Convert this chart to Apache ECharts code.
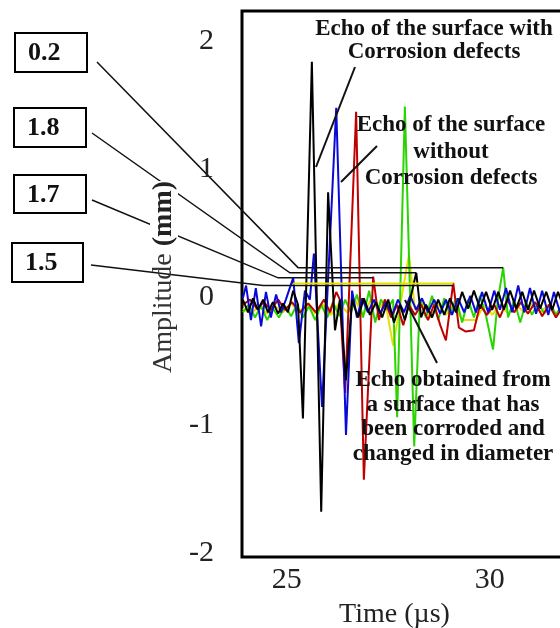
<!DOCTYPE html>
<html>
<head>
<meta charset="utf-8">
<script src="https://cdn.jsdelivr.net/npm/echarts@6/dist/echarts.min.js"></script>
<style>
  html, body { margin: 0; padding: 0; background: #fff; }
  #main { width: 560px; height: 628px; }
</style>
</head>
<body>
<div id="main"></div>
<script type="text/javascript">
// echo traces, [time (us), amplitude (mm)]
var blackEcho = [
  [23.92,-0.02],[24.05,-0.12],[24.17,-0.01],[24.29,-0.10],[24.42,-0.02],[24.54,-0.12],[24.66,-0.04],
  [24.79,-0.13],[24.91,-0.05],[25.03,-0.12],[25.16,0.05],[25.28,-0.06],[25.40,-0.95],[25.62,1.84],
  [25.85,-1.68],[26.02,0.82],[26.19,-0.26],[26.31,-0.02],[26.46,-0.65],[26.61,-0.02],[26.76,-0.16],
  [26.90,-0.01],[27.05,-0.14],[27.20,-0.04],[27.35,-0.16],[27.50,-0.02],[27.64,-0.20],[27.79,-0.06],
  [27.91,-0.18],[28.04,-0.02],[28.19,0.19],[28.31,-0.16],[28.43,-0.06],[28.58,-0.16],[28.73,-0.02],
  [28.88,-0.14],[29.02,-0.01],[29.17,-0.12],[29.32,0.04],[29.47,-0.09],[29.61,0.05],[29.76,-0.09],
  [29.91,0.04],[30.06,-0.10],[30.21,0.04],[30.35,-0.10],[30.50,0.05],[30.65,-0.09],[30.80,0.04],
  [30.94,-0.10],[31.09,0.05],[31.24,-0.09],[31.39,0.04],[31.54,-0.10],[31.68,0.04],[31.83,-0.09],[31.98,0.02]
];
var blueEcho = [
  [23.92,-0.01],[24.00,0.09],[24.12,-0.18],[24.24,0.07],[24.37,-0.23],[24.49,0.04],[24.61,-0.16],
  [24.74,0.02],[24.86,-0.12],[24.98,-0.02],[25.16,0.15],[25.30,-0.36],[25.45,0.05],[25.57,-0.02],
  [25.67,0.34],[25.87,-0.86],[26.22,1.48],[26.46,-1.08],[26.61,0.05],[26.73,-0.16],[26.86,-0.01],
  [27.00,-0.12],[27.15,-0.02],[27.30,-0.13],[27.45,-0.04],[27.60,-0.14],[27.74,-0.02],[27.89,-0.12],
  [28.04,0.01],[28.19,-0.10],[28.33,-0.01],[28.48,-0.12],[28.63,-0.02],[28.78,-0.13],[28.92,-0.02],
  [29.07,-0.14],[29.22,-0.01],[29.37,-0.12],[29.52,0.01],[29.66,-0.12],[29.81,0.04],[29.96,-0.12],
  [30.11,0.05],[30.25,-0.10],[30.40,0.07],[30.55,-0.12],[30.70,0.09],[30.85,-0.12],[30.99,0.07],
  [31.14,-0.13],[31.29,0.05],[31.44,-0.14],[31.58,0.04],[31.73,-0.12],[31.88,0.01]
];
var redEcho = [
  [23.92,-0.06],[24.10,-0.02],[24.27,-0.09],[24.44,-0.04],[24.61,-0.10],[24.79,-0.02],[24.96,-0.10],
  [25.13,-0.04],[25.33,-0.12],[25.53,-0.05],[25.72,-0.12],[25.92,-0.02],[26.07,-0.12],[26.22,0.04],
  [26.31,-0.02],[26.44,-0.75],[26.71,1.45],[26.90,-1.43],[27.13,0.16],[27.27,-0.18],[27.42,-0.02],
  [27.57,-0.16],[27.72,-0.06],[27.87,-0.22],[28.01,-0.06],[28.16,-0.14],[28.31,-0.06],[28.48,-0.18],
  [28.63,-0.06],[28.78,-0.22],[28.92,-0.34],[29.10,0.11],[29.24,-0.24],[29.41,-0.27],[29.61,-0.26],
  [29.76,-0.06],[29.93,-0.14],[30.11,-0.06],[30.25,-0.16],[30.43,-0.02],[30.60,-0.12],[30.77,-0.04],
  [30.94,-0.13],[31.12,-0.04],[31.29,-0.15],[31.46,-0.06],[31.63,-0.16],[31.81,-0.07],[31.98,-0.13]
];
var greenEcho = [
  [23.92,-0.12],[24.07,-0.06],[24.22,-0.16],[24.37,-0.07],[24.52,-0.18],[24.66,-0.09],[24.81,-0.16],
  [24.96,-0.07],[25.11,-0.15],[25.25,-0.06],[25.40,-0.16],[25.55,-0.07],[25.70,-0.18],[25.85,-0.06],
  [26.00,-0.16],[26.14,-0.04],[26.29,-0.15],[26.44,-0.02],[26.58,-0.12],[26.73,0.02],[26.88,-0.16],
  [27.03,0.05],[27.18,-0.20],[27.32,-0.02],[27.47,-0.10],[27.62,-0.02],[27.72,-0.94],[27.91,1.49],
  [28.14,-1.17],[28.28,-0.02],[28.43,-0.16],[28.58,0.01],[28.73,-0.18],[28.88,-0.01],[29.02,-0.14],
  [29.17,-0.01],[29.32,-0.20],[29.47,-0.02],[29.61,-0.16],[29.76,0.01],[29.91,-0.15],[30.08,-0.41],
  [30.20,-0.02],[30.33,0.23],[30.45,-0.16],[30.60,-0.02],[30.75,-0.20],[30.89,-0.04],[31.04,-0.14],
  [31.19,-0.04],[31.34,-0.13],[31.49,-0.05],[31.63,-0.14],[31.78,-0.06],[31.93,-0.13]
];
var yellowEcho = [
  [23.92,-0.09],[24.12,-0.13],[24.32,-0.07],[24.52,-0.13],[24.71,-0.07],[24.91,-0.12],[25.11,-0.05],
  [25.30,-0.12],[25.50,-0.05],[25.70,-0.13],[25.90,-0.06],[26.09,-0.14],[26.29,-0.05],[26.49,-0.12],
  [26.68,-0.02],[26.88,-0.14],[27.08,-0.02],[27.25,-0.10],[27.42,-0.02],[27.62,-0.38],[27.82,-0.02],
  [28.01,0.33],[28.16,-0.10],[28.33,-0.04],[28.53,-0.16],[28.73,-0.06],[28.92,-0.14],[29.12,-0.06],
  [29.32,-0.18],[29.66,-0.18],[29.86,-0.06],[30.06,-0.14],[30.25,-0.06],[30.45,-0.13],[30.65,-0.06],
  [30.85,-0.12],[31.04,-0.05],[31.24,-0.12],[31.44,-0.06],[31.63,-0.13],[31.83,-0.06]
];

// thickness call-outs and the peak levels they point to
var calloutLabels = ['0.2', '1.8', '1.7', '1.5'];
var calloutLevel = [0.23, 0.19, 0.15, 0.09];
var calloutStart = [25.28, 25.08, 24.79, 24.42];
var calloutEnd = [30.33, 28.19, 27.13, 29.10];

var xTicks = [25, 30];
var yTicks = [-2, -1, 0, 1, 2];

var serif = '"Liberation Serif", "Times New Roman", serif';

var myChart = echarts.init(document.getElementById('main'));

function trace(name, color, data) {
    return {
        name: name,
        type: 'line',
        data: data,
        showSymbol: false,
        animation: false,
        lineStyle: { color: color, width: 2 },
        z: 2
    };
}

var option = {
    animation: false,
    grid: {
        // plot runs past the right edge of the picture
        left: 242, top: 11, width: 329, height: 546,
        outerBoundsMode: 'none',
        containLabel: false,
        show: true, borderColor: '#000', borderWidth: 3, backgroundColor: '#fff'
    },
    xAxis: {
        type: 'value',
        min: 23.9, max: 32,
        name: 'Time (\u00b5s)',
        nameLocation: 'middle',
        nameGap: 44,
        nameTextStyle: { fontFamily: serif, fontSize: 28, color: '#222', padding: [0, 24, 0, 0] },
        axisLine: { show: false },
        axisTick: { show: false },
        splitLine: { show: false },
        axisLabel: { customValues: xTicks, fontFamily: serif, fontSize: 30, color: '#222', margin: 8 }
    },
    yAxis: {
        type: 'value',
        min: -2.034, max: 2.238,
        name: 'Amplitude {b|(mm)}',
        nameLocation: 'middle',
        nameGap: 64,
        nameRotate: 90,
        z: 5,
        nameTextStyle: {
            fontFamily: serif, fontSize: 28, color: '#333', padding: [0, 0, 0, 14],
            rich: { b: { fontFamily: serif, fontSize: 28, fontWeight: 'bold', color: '#222', backgroundColor: '#fff' } }
        },
        axisLine: { show: false },
        axisTick: { show: false },
        splitLine: { show: false },
        axisLabel: { customValues: yTicks, fontFamily: serif, fontSize: 30, color: '#222', margin: 28 }
    },
    series: [
        trace('yellow', '#e6e000', yellowEcho),
        trace('green', '#2ad400', greenEcho),
        trace('red', '#c00000', redEcho),
        trace('blue', '#0a0ad8', blueEcho),
        trace('black', '#000', blackEcho)
    ]
};
myChart.setOption(option);

// call-out boxes, leader lines and notes
var boxes = [[15, 33, 72, 39], [14, 108, 72, 39], [14, 175, 72, 38], [12, 243, 71, 39]];
var leadFrom = [[97, 62], [92, 133], [92, 200], [91, 265]];
var graphics = [];
for (var i = 0; i < calloutLabels.length; i++) {
    var b = boxes[i];
    graphics.push({
        type: 'rect', z: 3,
        shape: { x: b[0], y: b[1], width: b[2], height: b[3] },
        style: { fill: '#fff', stroke: '#000', lineWidth: 2 }
    });
    graphics.push({
        type: 'text', z: 4,
        style: {
            text: calloutLabels[i], x: b[0] + 13, y: b[1] + b[3] / 2 + 1,
            textVerticalAlign: 'middle', font: 'bold 26px ' + serif, fill: '#111'
        }
    });
    var p0 = myChart.convertToPixel({ gridIndex: 0 }, [calloutStart[i], calloutLevel[i]]);
    var p1 = myChart.convertToPixel({ gridIndex: 0 }, [calloutEnd[i], calloutLevel[i]]);
    graphics.push({
        type: 'polyline', z: 3,
        shape: { points: [leadFrom[i], p0, p1] },
        style: { fill: null, stroke: '#111', lineWidth: 1.5 }
    });
    if (i === 3) {
        graphics.push({
            type: 'line', z: 3,
            shape: { x1: p0[0] + 30, y1: p0[1] - 2, x2: p1[0], y2: p1[1] - 2 },
            style: { stroke: '#e6e000', lineWidth: 2 }
        });
    }
}

var notes = [
    { text: 'Echo of the surface with\nCorrosion defects', x: 434, y: 18, lh: 23 },
    { text: 'Echo of the surface\nwithout\nCorrosion defects', x: 451, y: 112, lh: 26.5 },
    { text: 'Echo obtained from\na surface that has\nbeen corroded and\nchanged in diameter', x: 453, y: 368, lh: 24.5 }
];
notes.forEach(function (n) {
    graphics.push({
        type: 'text', z: 6,
        style: {
            text: n.text, x: n.x, y: n.y, textAlign: 'center', textVerticalAlign: 'top',
            lineHeight: n.lh, font: 'bold 23px ' + serif, fill: '#111',
            shadowColor: 'rgba(0,0,0,0.45)', shadowBlur: 3, shadowOffsetX: 1, shadowOffsetY: 1
        }
    });
});
var pointers = [[[355, 67], [316, 167]], [[377, 146], [341, 182]], [[437, 363], [405, 300]]];
pointers.forEach(function (p) {
    graphics.push({
        type: 'line', z: 6,
        shape: { x1: p[0][0], y1: p[0][1], x2: p[1][0], y2: p[1][1] },
        style: { stroke: '#111', lineWidth: 2 }
    });
});

myChart.setOption({ graphic: graphics });
</script>
</body>
</html>
